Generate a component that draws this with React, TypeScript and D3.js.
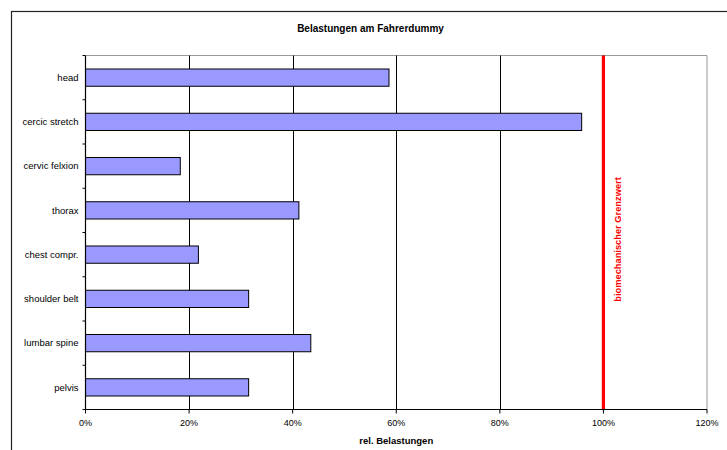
import React from "react";
import * as d3 from "d3";

const categories = [
  "head",
  "cercic stretch",
  "cervic felxion",
  "thorax",
  "chest compr.",
  "shoulder belt",
  "lumbar spine",
  "pelvis",
];
const values = [0.586, 0.958, 0.183, 0.412, 0.218, 0.315, 0.435, 0.315];
const xTicks = [0, 0.2, 0.4, 0.6, 0.8, 1.0, 1.2];
const limitValue = 1.0;
const title = "Belastungen am Fahrerdummy";
const xTitle = "rel. Belastungen";
const limitLabel = "biomechanischer Grenzwert";

export default function App() {
  const W = 727;
  const H = 450;
  const left = 85.5;
  const right = 707;
  const top = 55.5;
  const bottom = 409.5;
  const font = "'Liberation Sans', Arial, sans-serif";

  const x = d3.scaleLinear().domain([0, 1.2]).range([left, right]);
  const y = d3.scaleBand<string>().domain(categories).range([top, bottom]).padding(0);
  const barH = y.bandwidth() * 0.39;
  const fmt = d3.format(".0%");

  return (
    <svg
      width={W}
      height={H}
      style={{ position: "absolute", left: 0, top: 0, background: "#fff" }}
    >
      <rect x={11.5} y={11.5} width={800} height={600} fill="#fff" stroke="#222" strokeWidth={1.2} />
      <text x={370.5} y={32} textAnchor="middle" fontFamily={font} fontWeight="bold" fontSize={10} fill="#000">
        {title}
      </text>
      {/* plot border top/right */}
      <line x1={left} x2={right} y1={top} y2={top} stroke="#999" strokeWidth={1} />
      <line x1={right} x2={right} y1={top} y2={bottom} stroke="#999" strokeWidth={1} />
      {/* gridlines */}
      {xTicks.filter((t) => t > 0 && t < 1.2).map((t) => (
        <line key={t} x1={Math.round(x(t)) + 0.5} x2={Math.round(x(t)) + 0.5} y1={top} y2={bottom} stroke="#000" strokeWidth={1} />
      ))}
      {/* bars */}
      {categories.map((c, i) => {
        const yc = (y(c) as number) + y.bandwidth() / 2;
        return (
          <rect
            key={c}
            x={x(0)}
            y={yc - barH / 2}
            width={x(values[i]) - x(0)}
            height={barH}
            fill="#9999FF"
            stroke="#000"
            strokeWidth={1}
          />
        );
      })}
      {/* limit line */}
      <line x1={x(limitValue)} x2={x(limitValue)} y1={top} y2={bottom} stroke="#FF0000" strokeWidth={3.2} />
      <text
        transform={`translate(${x(limitValue) + 14.5},${(top + bottom) / 2 + 7}) rotate(-90)`}
        textAnchor="middle"
        dy="0.35em"
        fontFamily={font}
        fontWeight="bold"
        fontSize={9.3}
        fill="#FF0000"
      >
        {limitLabel}
      </text>
      {/* y axis */}
      <line x1={left} x2={left} y1={top} y2={bottom} stroke="#000" strokeWidth={1.2} />
      {categories.map((c) => (
        <line key={"t" + c} x1={left - 3} x2={left} y1={y(c) as number} y2={y(c) as number} stroke="#000" strokeWidth={1} />
      ))}
      <line x1={left - 3} x2={left} y1={bottom} y2={bottom} stroke="#000" strokeWidth={1} />
      {categories.map((c) => (
        <text
          key={"l" + c}
          x={78.5}
          y={(y(c) as number) + y.bandwidth() / 2}
          dy="0.35em"
          textAnchor="end"
          fontFamily={font}
          fontSize={9.5}
          fill="#000"
        >
          {c}
        </text>
      ))}
      {/* x axis */}
      <line x1={left} x2={right} y1={bottom} y2={bottom} stroke="#000" strokeWidth={1.2} />
      {xTicks.map((t) => (
        <g key={"x" + t}>
          <line x1={x(t)} x2={x(t)} y1={bottom} y2={bottom + 4} stroke="#000" strokeWidth={1} />
          <text x={x(t)} y={426} textAnchor="middle" fontFamily={font} fontSize={9} fill="#000">
            {fmt(t)}
          </text>
        </g>
      ))}
      <text x={(left + right) / 2} y={444} textAnchor="middle" fontFamily={font} fontWeight="bold" fontSize={9.5} fill="#000">
        {xTitle}
      </text>
    </svg>
  );
}
